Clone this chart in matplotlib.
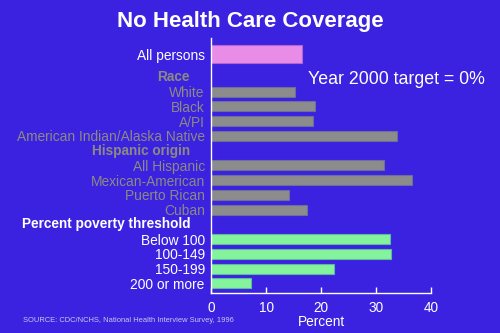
import matplotlib
matplotlib.use("Agg")
import matplotlib.pyplot as plt
import numpy as np

plt.rcParams['font.family'] = ['Liberation Sans', 'DejaVu Sans']

# Data: percent with no health care coverage
overall_label = ["All persons"]
overall_values = [16.6]

race_labels = ["White", "Black", "A/PI", "American Indian/Alaska Native"]
race_values = [15.3, 18.9, 18.5, 33.8]

hispanic_labels = ["All Hispanic", "Mexican-American", "Puerto Rican", "Cuban"]
hispanic_values = [31.5, 36.6, 14.2, 17.5]

poverty_labels = ["Below 100", "100-149", "150-199", "200 or more"]
poverty_values = [32.6, 32.7, 22.4, 7.3]

group_headers = ["Race", "Hispanic origin", "Percent poverty threshold"]
x_ticks = [0, 10, 20, 30, 40]

BG = "#3a22e0"
PINK = "#e88ce8"
GRAY = "#8c8c8c"
GREEN = "#84f49c"
GRAY_TEXT = "#8c8a82"
WHITE = "#ffffff"

fig = plt.figure(figsize=(5.0, 3.33), dpi=100, facecolor=BG)
W, H = 500, 333

# axes placed in pixel terms
ax_left, ax_right, ax_top, ax_bottom = 211, 431, 38, 293
ax = fig.add_axes([ax_left / W, 1 - ax_bottom / H,
                   (ax_right - ax_left) / W, (ax_bottom - ax_top) / H])
ax.set_facecolor(BG)

# row positions (row units, header rows included)
pos_overall = [-2.55]
pos_race = [0, 1, 2, 3]
pos_hisp = [5, 6, 7, 8]
pos_pov = [10, 11, 12, 13]
header_pos = [-1, 4, 9]

bh = 0.68
ax.barh(pos_overall, overall_values, height=1.22, color=PINK,
        edgecolor="#b066cc", linewidth=0.8)
ax.barh(pos_race, race_values, height=bh, color=GRAY,
        edgecolor="#6e6e9a", linewidth=0.8)
ax.barh(pos_hisp, hispanic_values, height=bh, color=GRAY,
        edgecolor="#6e6e9a", linewidth=0.8)
ax.barh(pos_pov, poverty_values, height=bh, color=GREEN,
        edgecolor="#5fb8a0", linewidth=0.8)

ax.set_xlim(0, 40)
ax.set_ylim(13.66, -3.64)

for s in ["top", "right"]:
    ax.spines[s].set_visible(False)
for s in ["left", "bottom"]:
    ax.spines[s].set_color(WHITE)
    ax.spines[s].set_linewidth(1.0)

ax.set_xticks(x_ticks)
ax.set_xticklabels([str(t) for t in x_ticks])
ax.tick_params(axis="x", direction="in", length=4, width=1, color=WHITE,
               labelcolor=WHITE, labelsize=9.8, pad=5.5)

# category labels as y tick labels
all_pos = pos_overall + pos_race + pos_hisp + pos_pov
all_labels = overall_label + race_labels + hispanic_labels + poverty_labels
label_colors = ([WHITE] * len(overall_label) + [GRAY_TEXT] * len(race_labels)
                + [GRAY_TEXT] * len(hispanic_labels) + [WHITE] * len(poverty_labels))
ax.set_yticks(all_pos)
ax.set_yticklabels(all_labels, fontsize=9.9)
ax.tick_params(axis="y", length=0, pad=4.5)
for lbl, c in zip(ax.get_yticklabels(), label_colors):
    lbl.set_color(c)

# group headers, right aligned a bit left of the category labels
header_colors = [GRAY_TEXT, GRAY_TEXT, WHITE]
for y, txt, c in zip(header_pos, group_headers, header_colors):
    ax.annotate(txt, xy=(0, y), xycoords=("axes fraction", "data"),
                xytext=(-21, 0), textcoords="offset pixels",
                ha="right", va="center", fontsize=9.8, fontweight="bold",
                color=c)

ax.set_xlabel("Percent", color=WHITE, fontsize=9.8, labelpad=0)

fig.text(250 / W, 1 - 21 / H, "No Health Care Coverage", ha="center",
         va="center", color=WHITE, fontsize=16, fontweight="bold")
fig.text(396 / W, 1 - 79 / H, "Year 2000 target = 0%", ha="center",
         va="center", color=WHITE, fontsize=12.8)
fig.text(23 / W, 1 - 320 / H,
         "SOURCE: CDC/NCHS, National Health Interview Survey, 1996",
         ha="left", va="center", color="#c8c8f0", fontsize=5.45)

fig.savefig("out.png", dpi=100, facecolor=BG)
